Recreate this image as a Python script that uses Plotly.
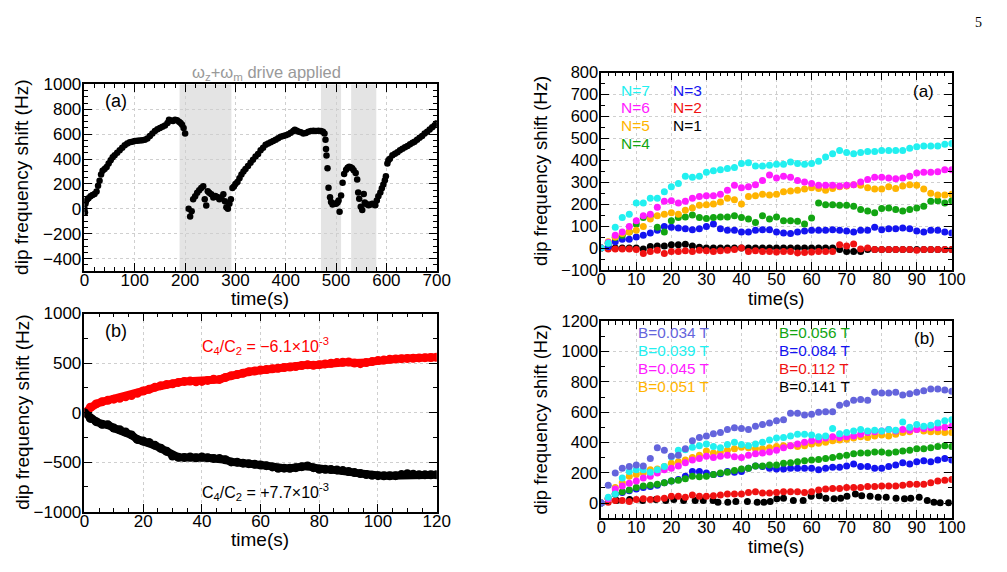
import plotly.graph_objects as go

# ---------------- data ----------------
# (top-left) drive on/off sequence
tl_t1 = [0, 1, 2, 3, 5, 8, 12, 16, 20, 24, 27, 30, 33, 36, 40, 44, 48, 52, 56, 60,
         65, 70, 75, 80, 85, 90, 95, 100, 105, 110, 115, 120, 125, 130, 135, 140, 145, 150, 155, 160,
         165, 168, 172, 176, 180, 184, 188, 191, 194, 197, 200]
tl_v1 = [0, -30, 40, 60, 75, 85, 100, 110, 120, 140, 185, 225, 275, 305, 320, 336, 365, 390, 415, 430,
         450, 470, 490, 510, 525, 535, 540, 545, 548, 550, 552, 555, 565, 585, 605, 625, 640, 650, 660, 670,
         690, 715, 710, 705, 715, 712, 700, 690, 675, 650, 605]
tl_t2 = [207, 210, 213, 216, 220, 224, 228, 232, 236, 239, 242, 245, 248, 252, 256, 260, 264, 268, 272, 276,
         279, 282, 285, 288, 291, 294, 297, 300, 304, 308, 312, 316, 320, 325, 330, 335, 340, 345, 350, 355,
         360, 365, 370, 375, 380, 385, 390, 395, 400, 405, 410, 415, 418, 422, 426, 430, 435, 440, 445, 450,
         455, 460, 465, 470, 474, 477]
tl_v2 = [0, -62, -20, 77, 100, 129, 150, 168, 181, 77, 26, 142, 130, 116, 90, 103, 95, 77, 90, 116,
         60, 13, 0, 40, 77, 168, 180, 200, 215, 245, 275, 300, 320, 345, 370, 395, 420, 440, 470, 490,
         515, 525, 535, 545, 555, 568, 580, 585, 592, 600, 612, 625, 635, 628, 620, 615, 605, 610, 620, 625,
         627, 625, 628, 625, 620, 606]
tl_t3 = [479, 480, 481, 483, 485, 488, 490, 493, 496, 500, 503, 505, 507, 510, 513, 516, 520, 523, 526, 529,
         532, 535, 539, 542, 544, 546, 549, 552, 555, 557, 559, 562, 565, 568, 572, 575, 578, 581, 584, 588,
         591, 594, 597, 599, 602, 604, 607, 612, 617, 622, 627, 632, 637, 642, 647, 652, 656, 661, 666, 671,
         676, 681, 686, 691, 696, 700]
tl_v3 = [555, 480, 429, 326, 170, 93, 54, 34, 40, 41, 50, 67, -23, 106, 209, 280, 313, 330, 338, 335,
         326, 310, 287, 235, 132, 80, 16, -10, 119, 50, 41, 35, 28, 35, 41, 35, 28, 67, 100, 132,
         165, 196, 230, 261, 364, 390, 403, 430, 442, 455, 470, 482, 494, 505, 519, 530, 540, 555, 571, 585,
         605, 620, 638, 655, 672, 687]
drive_start = [189, 470, 530]
drive_end = [292, 510, 580]

# (bottom-left) C4/C2 comparison
bl_t = list(range(0, 121, 2))
bl_neg = [0, 55, 88, 110, 125, 136, 145, 160, 172, 195, 218, 235, 255, 272, 285, 292, 305, 315, 318, 312,
          315, 325, 338, 335, 355, 373, 385, 398, 412, 420, 429, 435, 442, 448, 455, 461, 465, 475, 482, 478,
          484, 492, 498, 505, 508, 510, 500, 494, 505, 515, 526, 530, 538, 542, 545, 547, 549, 552, 555, 556, 558]
bl_pos = [0, -58, -91, -117, -123, -156, -172, -195, -225, -270, -286, -302, -330, -360, -390, -438, -450, -452, -448, -455,
          -448, -455, -462, -464, -475, -497, -500, -510, -515, -522, -529, -535, -548, -562, -560, -562, -555, -545, -539, -555,
          -571, -572, -575, -578, -585, -594, -605, -615, -625, -632, -636, -638, -637, -636, -625, -617, -622, -627, -628, -627, -627]

# (top-right) number of ions N
tr_t = list(range(0, 101, 2))
n7 = [0, 22, 95, 139, 154, 205, 205, 227, 227, 257, 279, 294, 327, 323, 327, 345, 352, 357, 363, 367,
      385, 389, 374, 374, 377, 382, 382, 392, 386, 382, 386, 396, 415, 430, 445, 436, 430, 436, 440, 440,
      445, 445, 445, 445, 455, 462, 465, 465, 465, 473, 477]
n6 = [0, 25, 59, 73, 98, 125, 147, 154, 186, 213, 216, 205, 213, 227, 235, 239, 239, 245, 264, 286,
      275, 279, 289, 308, 333, 319, 327, 323, 308, 301, 294, 286, 286, 286, 283, 286, 289, 301, 313, 323,
      323, 319, 316, 319, 327, 342, 345, 345, 348, 357, 357]
n5 = [0, 29, 51, 66, 73, 81, 98, 132, 147, 154, 161, 154, 172, 183, 195, 198, 201, 210, 227, 220,
      201, 235, 239, 245, 242, 245, 257, 260, 264, 269, 275, 272, 264, 272, 279, 283, 289, 286, 275, 269,
      269, 279, 272, 283, 289, 286, 269, 250, 242, 242, 245]
n4 = [0, 22, 48, 59, 73, 110, 139, 147, 95, 73, 125, 139, 142, 151, 139, 135, 139, 142, 142, 147,
      139, 132, 117, 147, 132, 142, 125, 125, 122, 110, 137, 205, 198, 198, 195, 195, 191, 176, 169, 161,
      180, 183, 176, 169, 176, 183, 191, 213, 216, 205, 216]
n3 = [0, 7, 29, 40, 40, 51, 59, 69, 81, 98, 95, 92, 88, 84, 88, 98, 110, 88, 81, 81,
      73, 73, 81, 84, 84, 73, 69, 66, 73, 78, 81, 81, 81, 84, 81, 78, 73, 81, 81, 95,
      84, 88, 88, 92, 88, 78, 73, 81, 81, 73, 69]
n2 = [0, -4, -4, -4, -4, -7, -25, -15, -10, -25, -15, -15, -12, -15, -10, -12, -15, -12, -10, -7,
      0, -15, -12, -15, -15, -18, -15, -15, -22, -20, -18, -15, -15, -15, 15, 10, 19, -4, 0, -7,
      -7, -7, -7, -7, -7, -10, -7, -7, -7, -7, -7]
n1 = [0, 0, 0, 0, 0, 0, -4, 7, 10, 10, 15, 15, 18, 10, 4, 0, 0, 0, 0, 0,
      0, 0, 0, 0, 0, 0, 0, 0, 0, 0, 0, 0, 0, 0, -7, -15, -15, -15, -7, -7,
      -7, -7, -7, -7, -7, -7, -7, -7, -7, -7, -7]
tr_labels = ["N=7", "N=6", "N=5", "N=4", "N=3", "N=2", "N=1"]

# (bottom-right) magnetic field B
br_t = list(range(0, 101, 2))
b034 = [0, 117, 198, 230, 241, 252, 245, 294, 365, 348, 309, 316, 358, 411, 433, 443, 458, 465, 486, 497,
        492, 486, 507, 518, 529, 544, 550, 593, 593, 582, 586, 599, 603, 603, 646, 657, 678, 684, 678, 731,
        727, 727, 731, 714, 721, 731, 742, 753, 753, 746, 738]
b039 = [0, 38, 60, 166, 209, 220, 220, 203, 220, 241, 305, 348, 352, 369, 379, 390, 373, 365, 386, 401,
        386, 379, 390, 401, 416, 429, 433, 443, 454, 454, 450, 437, 443, 492, 458, 465, 475, 486, 475, 480,
        475, 486, 480, 535, 501, 518, 507, 514, 529, 544, 550]
b045 = [0, 28, 92, 113, 130, 145, 166, 177, 198, 220, 230, 245, 266, 284, 294, 309, 301, 309, 316, 305,
        301, 316, 326, 330, 337, 348, 365, 379, 390, 401, 411, 416, 429, 437, 433, 437, 443, 454, 465, 471,
        475, 486, 475, 486, 480, 486, 492, 497, 497, 501, 507]
b051 = [0, 28, 102, 134, 177, 188, 198, 220, 224, 241, 262, 273, 284, 301, 316, 343, 330, 337, 348, 358,
        369, 365, 358, 358, 365, 373, 379, 379, 373, 379, 390, 394, 401, 411, 416, 422, 429, 437, 433, 443,
        450, 443, 454, 465, 471, 486, 475, 471, 471, 465, 465]
b056 = [0, 28, 60, 75, 87, 102, 113, 117, 124, 134, 145, 151, 160, 177, 173, 177, 188, 198, 203, 215,
        224, 230, 245, 245, 252, 252, 262, 266, 273, 279, 284, 288, 294, 301, 309, 316, 326, 330, 330, 337,
        337, 330, 337, 343, 348, 358, 358, 365, 373, 379, 373]
b084 = [0, 28, 60, 70, 81, 92, 102, 109, 117, 134, 145, 156, 177, 209, 209, 198, 188, 194, 209, 203,
        209, 230, 245, 241, 230, 224, 224, 230, 230, 230, 230, 220, 230, 237, 237, 245, 258, 241, 241, 230,
        230, 241, 252, 266, 258, 273, 279, 273, 284, 294, 284]
b112 = [0, 6, 17, 17, 11, 23, 28, 23, 28, 32, 45, 45, 38, 53, 45, 45, 49, 53, 60, 60,
        60, 70, 75, 66, 66, 70, 75, 75, 75, 70, 75, 87, 92, 96, 96, 102, 102, 102, 109, 109,
        113, 113, 113, 117, 124, 124, 124, 134, 145, 151, 156]
b141_t = [0, 4.4, 8.1, 11.8, 15.6, 18.4, 20.7, 23.5, 26.8, 29.1, 31.9, 33.3, 36.1, 38.4, 41.7, 44.5, 46.4, 48.2,
          50.1, 52.0, 54.8, 57.6, 59.9, 62.2, 64.1, 66.4, 68.3, 70.1, 72.5, 74.3, 76.7, 79.0, 81.3, 84.1,
          86.5, 88.3, 90.7, 93.0, 94.9, 96.7, 99.1]
b141 = [0, 17, 23, 17, 23, 17, 23, 17, 17, 17, 17, 6, 6, 11, 11, 6, 6, 11, 28, 32,
        17, 17, 45, 49, 32, 28, 32, 45, 60, 49, 45, 38, 38, 32, 28, 32, 38, 17, 6, 2, 2]
br_labels = ["B=0.034 T", "B=0.039 T", "B=0.045 T", "B=0.051 T",
             "B=0.056 T", "B=0.084 T", "B=0.112 T", "B=0.141 T"]

# ---------------- styling ----------------
W, H = 1007, 572
FONT = "Liberation Sans, Arial, Helvetica, sans-serif"
C_CYAN = "#22f0f0"
C_MAG = "#ff1cff"
C_ORA = "#ffb400"
C_GRN = "#12a512"
C_BLU = "#1414f0"
C_RED = "#f01212"
C_BLK = "#000000"
C_SLATE = "#6464dc"


def px(x):
    return x / W


def py(y):
    return 1 - y / H


fig = go.Figure()


def dots(x, y, color, xa, ya, size=6):
    fig.add_trace(go.Scatter(x=x, y=y, mode="markers", xaxis=xa, yaxis=ya,
                             marker=dict(color=color, size=size, line=dict(width=0)),
                             showlegend=False, hoverinfo="skip"))


# top-left
dots(tl_t1 + tl_t2 + tl_t3, tl_v1 + tl_v2 + tl_v3, C_BLK, "x", "y", 6.5)

# bottom-left
for vals, col in [(bl_neg, "#ff0000"), (bl_pos, C_BLK)]:
    fig.add_trace(go.Scatter(x=bl_t, y=vals, mode="lines+markers", xaxis="x3", yaxis="y3",
                             line=dict(color=col, width=8),
                             marker=dict(color=col, size=9),
                             showlegend=False, hoverinfo="skip"))

# top-right
for vals, col in [(n1, C_BLK), (n2, C_RED), (n3, C_BLU), (n4, C_GRN), (n5, C_ORA), (n6, C_MAG), (n7, C_CYAN)]:
    dots(tr_t, vals, col, "x2", "y2", 7)

# bottom-right
dots(b141_t, b141, C_BLK, "x4", "y4", 7)
for vals, col in [(b112, C_RED), (b084, C_BLU), (b056, C_GRN), (b051, C_ORA),
                  (b045, C_MAG), (b039, C_CYAN), (b034, C_SLATE)]:
    dots(br_t, vals, col, "x4", "y4", 7)

# shaded drive windows
for s, e in zip(drive_start, drive_end):
    fig.add_shape(type="rect", xref="x", yref="y domain", x0=s, x1=e, y0=0, y1=1,
                  fillcolor="#e4e4e4", line=dict(width=0), layer="below")


def axis(domain, rng, dtick, minor, tsize, anchor, standoff):
    return dict(domain=domain, range=rng, dtick=dtick, tick0=0, anchor=anchor,
                showline=True, linecolor="black", linewidth=1.5, mirror="ticks",
                ticks="inside", ticklen=8, tickwidth=1, tickcolor="black",
                ticklabelstandoff=standoff,
                minor=dict(dtick=minor, tick0=0, ticks="inside", ticklen=4, tickcolor="black", showgrid=False),
                showgrid=True, gridcolor="#cfcfcf", griddash="dot", gridwidth=1,
                zeroline=False, tickfont=dict(family=FONT, size=tsize, color="black"),
                fixedrange=True)


fig.update_layout(
    width=W, height=H, margin=dict(l=0, r=0, t=0, b=0),
    paper_bgcolor="white", plot_bgcolor="white",
    font=dict(family=FONT, color="black"),
    xaxis=axis([px(81), px(440)], [0, 700], 100, 20, 17, "y", -7),
    yaxis=axis([py(271), py(78)], [-500, 1000], 200, 50, 17, "x", -2),
    xaxis3=axis([px(81), px(440)], [0, 120], 20, 5, 17, "y3", -7),
    yaxis3=axis([py(520), py(315)], [-1000, 1000], 500, 250, 17, "x3", -2),
    xaxis2=axis([px(607.7), px(965)], [0, 100], 10, 2, 16.5, "y2", -7),
    yaxis2=axis([py(270), py(65.7)], [-100, 800], 100, 50, 16.5, "x2", -2),
    xaxis4=axis([px(607.7), px(965)], [0, 100], 10, 2, 16.5, "y4", -7),
    yaxis4=axis([py(526.7), py(323)], [-100, 1200], 200, 100, 16.5, "x4", -2),
)

ann = []


def text(x, y, s, size, color="black", xanchor="center", angle=0, family=FONT):
    ann.append(dict(x=px(x), y=py(y), xref="paper", yref="paper", text=s, showarrow=False,
                    xanchor=xanchor, yanchor="middle", textangle=angle,
                    font=dict(family=family, size=size, color=color)))


YT = "dip frequency shift (Hz)"
text(17, 174, YT, 19, angle=-90)
text(17, 417, YT, 19, angle=-90)
text(546, 168, YT, 18.5, angle=-90)
text(546, 425, YT, 18.5, angle=-90)
text(260, 299, "time(s)", 19)
text(260, 549, "time(s)", 19)
text(786, 299, "time(s)", 18.5)
text(786, 556, "time(s)", 18.5)

text(100, 95, "(a)", 18, xanchor="left")
text(100, 333, "(b)", 18, xanchor="left")
text(949, 85, "(a)", 17, xanchor="right")
text(950, 341, "(b)", 17, xanchor="right")

text(267, 66, "ω<sub>z</sub>+ω<sub>m</sub> drive applied", 16.5, color="#999999")
text(265, 349, "C<sub>4</sub>/C<sub>2</sub> = −6.1×10<sup>-3</sup>", 16, color="#ff0000")
text(266, 500, "C<sub>4</sub>/C<sub>2</sub> = +7.7×10<sup>-3</sup>", 16)

tr_cols = [C_CYAN, C_MAG, C_ORA, C_GRN, C_BLU, C_RED, C_BLK]
tr_pos = [(626, 84), (626, 102), (626, 120.5), (626, 139), (679, 84), (679, 102), (679, 120.5)]
for lab, col, (x, y) in zip(tr_labels, tr_cols, tr_pos):
    text(x, y, lab, 15.5, color=col, xanchor="left")

br_cols = [C_SLATE, C_CYAN, C_MAG, C_ORA, C_GRN, C_BLU, C_RED, C_BLK]
br_pos = [(643, 334.5), (643, 353), (643, 371.5), (643, 390),
          (787, 334.5), (787, 353), (787, 371.5), (787, 390)]
for lab, col, (x, y) in zip(br_labels, br_cols, br_pos):
    text(x, y, lab, 15.3, color=col, xanchor="left")

text(992, 14, "5", 14, family="Liberation Serif, DejaVu Serif, serif")

fig.update_layout(annotations=ann)
fig.write_html("out.html")
